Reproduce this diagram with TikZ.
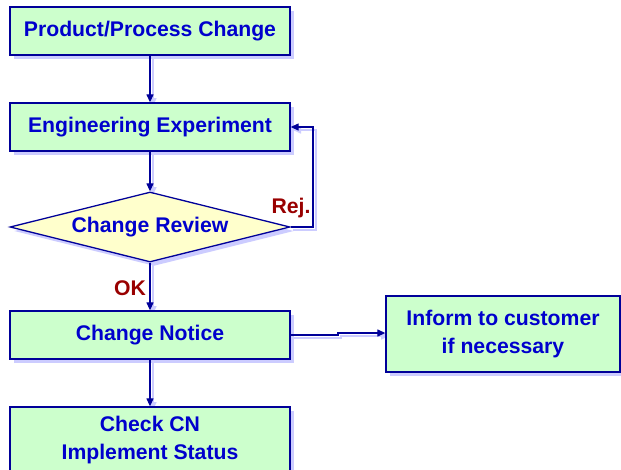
\documentclass[tikz,border=0pt]{standalone}
\usepackage{fontspec}
\setmainfont{Liberation Sans}
\usetikzlibrary{shapes.geometric,arrows.meta,shadows}
\definecolor{boxfill}{HTML}{CCFFCC}
\definecolor{diafill}{HTML}{FFFFCC}
\definecolor{edgeblue}{HTML}{000099}
\definecolor{txtblue}{HTML}{0000CC}
\definecolor{shadowc}{HTML}{CCCCFF}
\definecolor{lblred}{HTML}{990000}
\tikzset{
  myshadow/.style={drop shadow={shadow xshift=4pt, shadow yshift=-4pt, fill=shadowc, opacity=1}},
  stepbox/.style={rectangle, draw=edgeblue, line width=1.3pt, fill=boxfill, myshadow,
    minimum width=280pt, minimum height=48pt, inner sep=0pt, align=center,
    text=txtblue, font=\fontsize{21.2}{28.5}\selectfont\bfseries},
  decbox/.style={diamond, draw=edgeblue, line width=1.3pt, fill=diafill, myshadow,
    minimum width=280pt, minimum height=70pt, inner sep=0pt, aspect=4,
    text=txtblue, font=\fontsize{21.2}{28.5}\selectfont\bfseries},
  conn/.style={draw=edgeblue, line width=1.2pt, -{Triangle[length=8pt,width=7pt]}},
  connshadow/.style={draw=shadowc, line width=1.6pt, -{Triangle[length=8pt,width=7pt]}},
  lbl/.style={text=lblred, font=\fontsize{21.2}{24}\selectfont\bfseries, inner sep=0pt},
}
\begin{document}
\begin{tikzpicture}[x=1pt, y=-1pt]
\useasboundingbox (0,0) rectangle (621,469);
\clip (0,0) rectangle (621,469);
\fill[white] (0,0) rectangle (621,469);

% shadows of connectors
\begin{scope}[shift={(3,3)}]
  \draw[connshadow] (150,55) -- (150,103);
  \draw[connshadow] (150,151) -- (150,192);
  \draw[connshadow] (150,262) -- (150,311);
  \draw[connshadow] (150,359) -- (150,407);
  \draw[connshadow] (290,335) -- (338,335) -- (338,333) -- (386,333);
  \draw[connshadow] (290,227) -- (313,227) -- (313,127) -- (290,127);
\end{scope}

\node[stepbox] (ppc) at (150,31) {Product/Process Change};
\node[stepbox] (ee) at (150,127) {Engineering Experiment};
\node[decbox] (cr) at (150,227) {Change Review};
\node[stepbox] (cn) at (150,335) {Change Notice};
\node[stepbox, minimum height=66pt] (chk) at (150,440) {Check CN\\Implement Status};
\node[stepbox, minimum width=234pt, minimum height=76pt] (inf) at (503,334) {Inform to customer\\if necessary};

\coordinate (fbA) at (313,227);
\coordinate (fbB) at (313,127);
\coordinate (jA) at (338,335);
\coordinate (jB) at (338,333);

\draw[conn] (ppc.south) -- (ee.north);
\draw[conn] (ee.south) -- (cr.north);
\draw[conn] (cr.south) -- (cn.north);
\draw[conn] (cn.south) -- (chk.north);
\draw[conn] (cr.east) -- (fbA) -- (fbB) -- (ee.east);
\draw[conn] (cn.east) -- (jA) -- (jB) -- (inf.west |- jB);

\node[lbl] (rej) at (291,208) {Rej.};
\node[lbl] (ok) at (130,288) {OK};
\end{tikzpicture}
\end{document}
